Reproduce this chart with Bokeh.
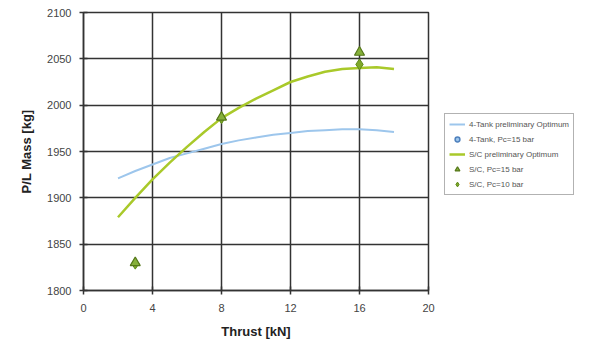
from bokeh.plotting import figure
from bokeh.models import Legend, LegendItem, FixedTicker
from bokeh.embed import file_html
from bokeh.resources import INLINE

# Data
tank_x = [2, 3, 4, 5, 6, 7, 8, 9, 10, 11, 12, 13, 14, 15, 16, 17, 18]
tank_y = [1921, 1929, 1936, 1943, 1948, 1953, 1958, 1962, 1965, 1968, 1970, 1972, 1973, 1974, 1974, 1973, 1971]
sc_x = [2, 3, 4, 5, 6, 7, 8, 9, 10, 11, 12, 13, 14, 15, 16, 17, 18]
sc_y = [1879, 1900, 1920, 1938, 1955, 1971, 1986, 1997, 2007, 2016, 2025, 2031, 2036, 2039, 2040, 2041, 2039]
# 4-Tank, Pc=15 bar: no visible point in the chart (legend entry only)
tank15_x = [float("nan")]
tank15_y = [float("nan")]
sc15_x = [3, 8, 16]
sc15_y = [1830, 1987, 2057]
sc10_x = [3, 8, 16]
sc10_y = [1829, 1986, 2044]
x_ticks = [0, 4, 8, 12, 16, 20]
y_ticks = [1800, 1850, 1900, 1950, 2000, 2050, 2100]

p = figure(frame_width=345, frame_height=278, output_backend="svg", toolbar_location=None,
           x_range=(0, 20), y_range=(1800, 2100),
           min_border_left=83, min_border_right=146, min_border_top=12, min_border_bottom=48)
p.background_fill_color = "white"
p.border_fill_color = "white"
p.outline_line_color = "#333333"
p.outline_line_width = 1.5

for ax, ticks in ((p.xaxis, x_ticks), (p.yaxis, y_ticks)):
    ax.ticker = FixedTicker(ticks=ticks)
    ax.axis_line_color = "#333333"
    ax.axis_line_width = 1.5
    ax.major_tick_line_color = "#333333"
    ax.major_tick_line_width = 1.5
    ax.major_tick_in = 4
    ax.major_tick_out = 4
    ax.minor_tick_line_color = None
    ax.major_label_text_font = "Liberation Sans"
    ax.major_label_text_font_size = "11px"
    ax.major_label_text_color = "#444444"
    ax.axis_label_text_font = "Liberation Sans"
    ax.axis_label_text_font_size = "13px"
    ax.axis_label_text_font_style = "bold"
    ax.axis_label_text_color = "#222222"

p.xaxis.axis_label = "Thrust [kN]"
p.yaxis.axis_label = "P/L Mass [kg]"
p.xaxis.major_label_standoff = 9
p.xaxis.axis_label_standoff = 9
p.yaxis.major_label_standoff = 8
p.yaxis.axis_label_standoff = 10

p.grid.grid_line_color = "#333333"
p.grid.grid_line_width = 1.5
p.grid.grid_line_alpha = 1.0

r1 = p.line(tank_x, tank_y, line_color="#9DC6EC", line_width=2)
r2 = p.scatter(tank15_x, tank15_y, marker="circle", size=6, fill_color="#9DC6EC", line_color="#4F81BD", line_width=1.5)
r3 = p.line(sc_x, sc_y, line_color="#A9C92A", line_width=2.5)
r5 = p.scatter(sc10_x, sc10_y, marker="diamond", size=11, fill_color="#7FA82A", line_color="#5E8A18")
r4 = p.scatter(sc15_x, sc15_y, marker="triangle", size=10, fill_color="#86B03A", line_color="#55771A", line_width=1.2)

legend = Legend(items=[
    LegendItem(label="4-Tank preliminary Optimum", renderers=[r1]),
    LegendItem(label="4-Tank, Pc=15 bar", renderers=[r2]),
    LegendItem(label="S/C preliminary Optimum", renderers=[r3]),
    LegendItem(label="S/C, Pc=15 bar", renderers=[r4]),
    LegendItem(label="S/C, Pc=10 bar", renderers=[r5]),
], location=(16, 95))
legend.label_text_font = "Liberation Sans"
legend.label_text_font_size = "8px"
legend.label_text_color = "#555555"
legend.glyph_height = 12
legend.glyph_width = 16
legend.label_height = 12
legend.spacing = 3
legend.padding = 4
legend.margin = 0
legend.label_standoff = 4
legend.border_line_color = "#666666"
legend.border_line_width = 1.5
legend.background_fill_color = "white"
p.add_layout(legend, "right")

open("out.html", "w").write(file_html(p, INLINE))
